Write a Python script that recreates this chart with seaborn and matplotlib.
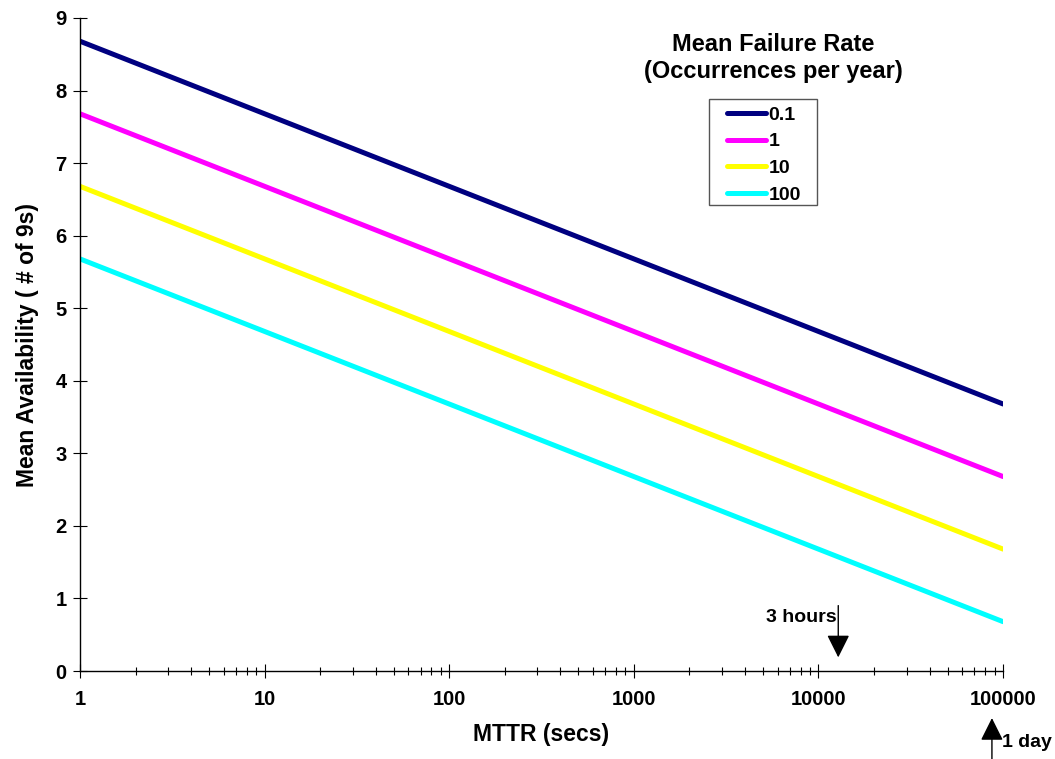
import seaborn as sns
import pandas as pd
import matplotlib.pyplot as plt
import matplotlib.ticker as mticker
from matplotlib.patches import Rectangle

# MTTR in seconds and availability (# of nines) per failure rate
mttr = [1, 10, 100, 1000, 10000, 100000]
rate_labels = ['0.1', '1', '10', '100']
nines_01 = [8.68, 7.68, 6.68, 5.68, 4.68, 3.68]
nines_1 = [7.68, 6.68, 5.68, 4.68, 3.68, 2.68]
nines_10 = [6.68, 5.68, 4.68, 3.68, 2.68, 1.68]
nines_100 = [5.68, 4.68, 3.68, 2.68, 1.68, 0.68]
colors = ['#000080', '#FF00FF', '#FFFF00', '#00FFFF']

# marker positions (secs)
three_hours_x = 12800
one_day_x = 87000

rows = []
for lab, vals in zip(rate_labels, [nines_01, nines_1, nines_10, nines_100]):
    for m, v in zip(mttr, vals):
        rows.append({'mttr': m, 'nines': v, 'rate': lab})
df = pd.DataFrame(rows)

sns.set_style('white')
plt.rcParams['font.family'] = ['Liberation Sans', 'DejaVu Sans']
plt.rcParams['font.weight'] = 'bold'
for k in ['text.color', 'axes.labelcolor', 'xtick.color', 'ytick.color']:
    plt.rcParams[k] = 'black'

fig = plt.figure(figsize=(10.55, 7.59), dpi=100)
ax = fig.add_axes([0.0758, 0.1159, 0.875, 0.8604])

sns.lineplot(data=df, x='mttr', y='nines', hue='rate', hue_order=rate_labels,
             palette=colors, linewidth=3.6, ax=ax, legend=True)

ax.set_xscale('log')
ax.set_xlim(1, 100000)
ax.set_ylim(0, 9)
ax.set_yticks(range(0, 10))
ax.xaxis.set_major_locator(mticker.FixedLocator(mttr))
ax.xaxis.set_major_formatter(mticker.FuncFormatter(lambda v, p: '%d' % v))
ax.xaxis.set_minor_locator(mticker.LogLocator(base=10, subs=range(2, 10)))
ax.xaxis.set_minor_formatter(mticker.NullFormatter())

for s in ['top', 'right']:
    ax.spines[s].set_visible(False)
for s in ['left', 'bottom']:
    ax.spines[s].set_color('black')
    ax.spines[s].set_linewidth(1.0)

ax.tick_params(axis='both', which='both', bottom=True, left=True)
ax.tick_params(axis='both', which='major', direction='inout', length=9.5, width=0.8,
               labelsize=14.5, color='black')
ax.tick_params(axis='x', which='minor', direction='inout', length=5.5, width=0.8, color='black')
ax.tick_params(axis='x', which='major', pad=9)
ax.tick_params(axis='y', which='major', pad=5)
for t in ax.get_xticklabels() + ax.get_yticklabels():
    t.set_fontweight('bold')

ax.set_xlabel('MTTR (secs)', fontsize=16.5, fontweight='bold', labelpad=10)
ax.set_ylabel('Mean Availability ( # of 9s)', fontsize=16.5, fontweight='bold', labelpad=12)

# legend (no frame) with a box and title drawn around it, Excel style
handles, labels = ax.get_legend_handles_labels()
ax.get_legend().remove()
leg = ax.legend(handles, labels, loc='upper left', bbox_to_anchor=(0.689, 0.860),
                bbox_transform=fig.transFigure, frameon=False,
                fontsize=14, handlelength=2.0, handletextpad=0.15,
                labelspacing=0.46, borderpad=0, borderaxespad=0)
for t in leg.get_texts():
    t.set_fontweight('bold')
fig.patches.append(Rectangle((709 / 1055, 1 - 205 / 759), 108 / 1055, 106 / 759,
                             transform=fig.transFigure, fill=False,
                             edgecolor='#555555', linewidth=1.0, zorder=5))
fig.text(0.733, 0.9236, 'Mean Failure Rate\n(Occurrences per year)', ha='center', va='center',
         fontsize=17, fontweight='bold', linespacing=1.25)

# 3 hours arrow
ax.annotate('', xy=(three_hours_x, 0.15), xytext=(three_hours_x, 0.94),
            arrowprops=dict(arrowstyle='-|>,head_length=1.4,head_width=0.7',
                            color='black', lw=1))
ax.text(three_hours_x * 0.985, 0.74, '3 hours', ha='right', va='center', fontsize=14,
        fontweight='bold')

# 1 day arrow (below the axis)
ax.annotate('', xy=(one_day_x, -0.61), xytext=(one_day_x, -1.25),
            xycoords='data', textcoords='data', annotation_clip=False,
            arrowprops=dict(arrowstyle='-|>,head_length=1.4,head_width=0.7',
                            color='black', lw=1))
ax.text(one_day_x * 1.13, -0.99, '1 day', ha='left', va='center', fontsize=14,
        fontweight='bold', clip_on=False)

fig.savefig('out.png', dpi=100)
